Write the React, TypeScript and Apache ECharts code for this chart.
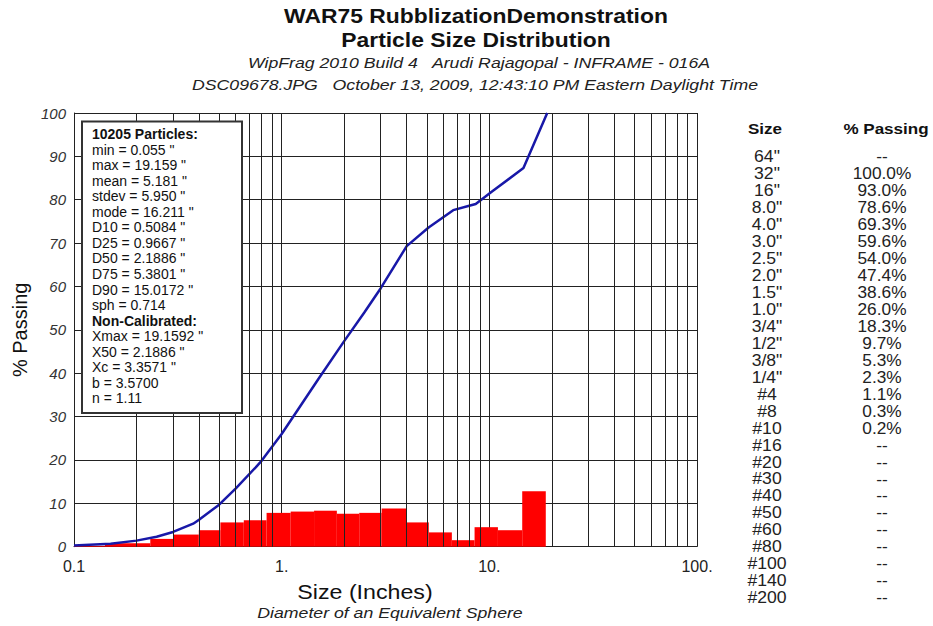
import React, { useEffect, useRef } from "react";
import * as echarts from "echarts";

const TITLE_LINES = ["WAR75 RubblizationDemonstration", "Particle Size Distribution"];
const SUBTITLE_LINES = [
  "WipFrag 2010 Build 4   Arudi Rajagopal - INFRAME - 016A",
  "DSC09678.JPG   October 13, 2009, 12:43:10 PM Eastern Daylight Time",
];

// Histogram bins (inches) and % of particles in each bin
const BIN_EDGES = [0.1, 0.141, 0.233, 0.302, 0.399, 0.507, 0.657, 0.846, 1.105, 1.432, 1.844, 2.363, 3.03, 3.97, 5.11, 6.6, 8.49, 11.0, 14.4, 18.7];
const BIN_PERCENT = [0.2, 0.8, 1.8, 2.8, 3.8, 5.6, 6.1, 7.8, 8.1, 8.3, 7.6, 7.8, 8.8, 5.6, 3.3, 1.5, 4.5, 3.8, 12.8];

// Cumulative % passing curve
const CURVE_SIZE = [0.1, 0.15, 0.2, 0.25, 0.3, 0.375, 0.4, 0.5, 0.6, 0.75, 0.8, 1.0, 1.5, 2.0, 2.5, 3.0, 4.0, 5.1, 6.7, 8.0, 8.6, 10.3, 14.6, 19.0];
const CURVE_PASSING = [0.3, 0.7, 1.4, 2.3, 3.4, 5.3, 6.2, 9.7, 13.4, 18.3, 19.8, 26.0, 38.6, 47.4, 54.0, 59.6, 69.3, 73.6, 77.6, 78.6, 79.0, 81.9, 87.3, 100];

const X_TICK_VALUES = [0.1, 1, 10, 100];
const X_TICK_LABELS = ["0.1", "1.", "10.", "100."];
const MINOR_GRID = [0.2, 0.3, 0.4, 0.5, 0.6, 0.7, 0.8, 0.9, 2, 3, 4, 5, 6, 7, 8, 9, 20, 30, 40, 50, 60, 70, 80, 90];

const STATS_LINES = [
  "10205 Particles:",
  "min = 0.055 \"",
  "max = 19.159 \"",
  "mean = 5.181 \"",
  "stdev = 5.950 \"",
  "mode = 16.211 \"",
  "D10 = 0.5084 \"",
  "D25 = 0.9667 \"",
  "D50 = 2.1886 \"",
  "D75 = 5.3801 \"",
  "D90 = 15.0172 \"",
  "sph = 0.714",
  "Non-Calibrated:",
  "Xmax = 19.1592 \"",
  "X50 = 2.1886 \"",
  "Xc = 3.3571 \"",
  "b = 3.5700",
  "n = 1.11",
];
const STATS_BOLD = [0, 12];

const TABLE_HEADERS = ["Size", "% Passing"];
const TABLE_SIZES = ["64\"", "32\"", "16\"", "8.0\"", "4.0\"", "3.0\"", "2.5\"", "2.0\"", "1.5\"", "1.0\"", "3/4\"", "1/2\"", "3/8\"", "1/4\"", "#4", "#8", "#10", "#16", "#20", "#30", "#40", "#50", "#60", "#80", "#100", "#140", "#200"];
const TABLE_PASSING = ["--", "100.0%", "93.0%", "78.6%", "69.3%", "59.6%", "54.0%", "47.4%", "38.6%", "26.0%", "18.3%", "9.7%", "5.3%", "2.3%", "1.1%", "0.3%", "0.2%", "--", "--", "--", "--", "--", "--", "--", "--", "--", "--"];

const FONT = "Arial, 'Liberation Sans', sans-serif";

function txt(x: number, y: number, text: string, opts: any = {}) {
  const align = opts.align || "left";
  return {
    type: "text",
    x,
    y,
    scaleX: opts.scaleX || 1,
    silent: true,
    z: 100,
    style: {
      text,
      fontFamily: FONT,
      fontSize: opts.size || 14,
      fontWeight: opts.bold ? "bold" : "normal",
      fontStyle: opts.italic ? "italic" : "normal",
      fill: opts.color || "#111",
      align,
      textAlign: align,
      verticalAlign: "middle",
      textVerticalAlign: "middle",
    },
  };
}

export default function App() {
  const ref = useRef<HTMLDivElement>(null);
  useEffect(() => {
    const chart = echarts.init(ref.current!, null, { renderer: "svg" });
    const histData = BIN_PERCENT.map((v, i) => [BIN_EDGES[i], BIN_EDGES[i + 1], v]);
    const curveData = CURVE_SIZE.map((s, i) => [s, CURVE_PASSING[i]]);

    const graphics: any[] = [];
    graphics.push(txt(476, 16, TITLE_LINES[0], { size: 21, bold: true, align: "center", scaleX: 1.09 }));
    graphics.push(txt(476, 40, TITLE_LINES[1], { size: 21, bold: true, align: "center", scaleX: 1.09 }));
    graphics.push(txt(479, 63, SUBTITLE_LINES[0], { size: 15, italic: true, align: "center", color: "#222", scaleX: 1.18 }));
    graphics.push(txt(475, 85, SUBTITLE_LINES[1], { size: 15, italic: true, align: "center", color: "#222", scaleX: 1.18 }));

    // stats box
    graphics.push({
      type: "rect",
      z: 90,
      silent: true,
      shape: { x: 82, y: 121.5, width: 160, height: 291.5 },
      style: { fill: "#fff", stroke: "#333", lineWidth: 2 },
    });
    STATS_LINES.forEach((line, i) => {
      graphics.push(txt(92, 134 + i * 15.55, line, { size: 14, bold: STATS_BOLD.includes(i) }));
    });

    // right table
    graphics.push(txt(765, 128, TABLE_HEADERS[0], { size: 15.5, bold: true, align: "center", scaleX: 1.1 }));
    graphics.push(txt(886, 128, TABLE_HEADERS[1], { size: 15.5, bold: true, align: "center", scaleX: 1.1 }));
    TABLE_SIZES.forEach((s, i) => {
      graphics.push(txt(767, 157 + i * 16.96, s, { size: 16, align: "center", color: "#222", scaleX: 1.1 }));
      graphics.push(txt(882, 157 + i * 16.96, TABLE_PASSING[i], { size: 16, align: "center", color: "#222", scaleX: 1.08 }));
    });

    // x axis titles
    graphics.push(txt(365, 592, "Size (Inches)", { size: 20, align: "center", scaleX: 1.16 }));
    graphics.push(txt(390, 613, "Diameter of an Equivalent Sphere", { size: 15, italic: true, align: "center", color: "#222", scaleX: 1.18 }));

    chart.setOption({
      animation: false,
      backgroundColor: "#fff",
      grid: { left: 74, right: 236, top: 113, bottom: 79.3, containLabel: false },
      xAxis: {
        type: "log",
        logBase: 10,
        min: 0.1,
        max: 100,
        axisLine: { show: true, lineStyle: { color: "#222", width: 1 } },
        axisTick: { show: false },
        splitLine: { show: true, lineStyle: { color: "#222", width: 1 } },
        axisLabel: {
          fontFamily: FONT,
          fontSize: 16,
          color: "#222",
          margin: 12,
          showMinLabel: true,
          showMaxLabel: true,
          formatter: (v: number) => {
            const i = X_TICK_VALUES.findIndex((t) => Math.abs(t - v) / t < 1e-6);
            return i >= 0 ? X_TICK_LABELS[i] : "";
          },
        },
      },
      yAxis: {
        type: "value",
        min: 0,
        max: 100,
        interval: 10,
        name: "% Passing",
        nameLocation: "middle",
        nameRotate: 90,
        nameGap: 40,
        nameTextStyle: { fontFamily: FONT, fontSize: 20, color: "#111" },
        axisLine: { show: true, lineStyle: { color: "#222", width: 1 } },
        axisTick: { show: false },
        splitLine: { show: true, lineStyle: { color: "#222", width: 1 } },
        axisLabel: { fontFamily: FONT, fontSize: 15, fontStyle: "italic", color: "#333", margin: 8 },
      },
      graphic: graphics,
      series: [
        {
          type: "line",
          name: "grid",
          data: [],
          z: 1,
          silent: true,
          markLine: {
            silent: true,
            symbol: ["none", "none"],
            label: { show: false },
            lineStyle: { color: "#222", width: 1, type: "solid" },
            emphasis: { disabled: true },
            data: MINOR_GRID.map((v) => ({ xAxis: v })),
          },
        },
        {
          type: "custom",
          name: "histogram",
          z: 3,
          silent: true,
          data: histData,
          encode: { x: [0, 1], y: 2 },
          renderItem: (params: any, api: any) => {
            const p0 = api.coord([api.value(0), 0]);
            const p1 = api.coord([api.value(1), api.value(2)]);
            return {
              type: "rect",
              shape: { x: p0[0], y: p1[1], width: p1[0] - p0[0], height: p0[1] - p1[1] },
              style: { fill: "#ff0000", stroke: null },
            };
          },
        },
        {
          type: "line",
          name: "passing",
          z: 4,
          silent: true,
          data: curveData,
          showSymbol: false,
          symbol: "none",
          lineStyle: { color: "#1818a8", width: 2.5 },
        },
      ],
    });
    return () => chart.dispose();
  }, []);
  return (
    <div
      ref={ref}
      style={{ position: "absolute", left: 0, top: 0, width: 933, height: 626, background: "#fff" }}
    />
  );
}
